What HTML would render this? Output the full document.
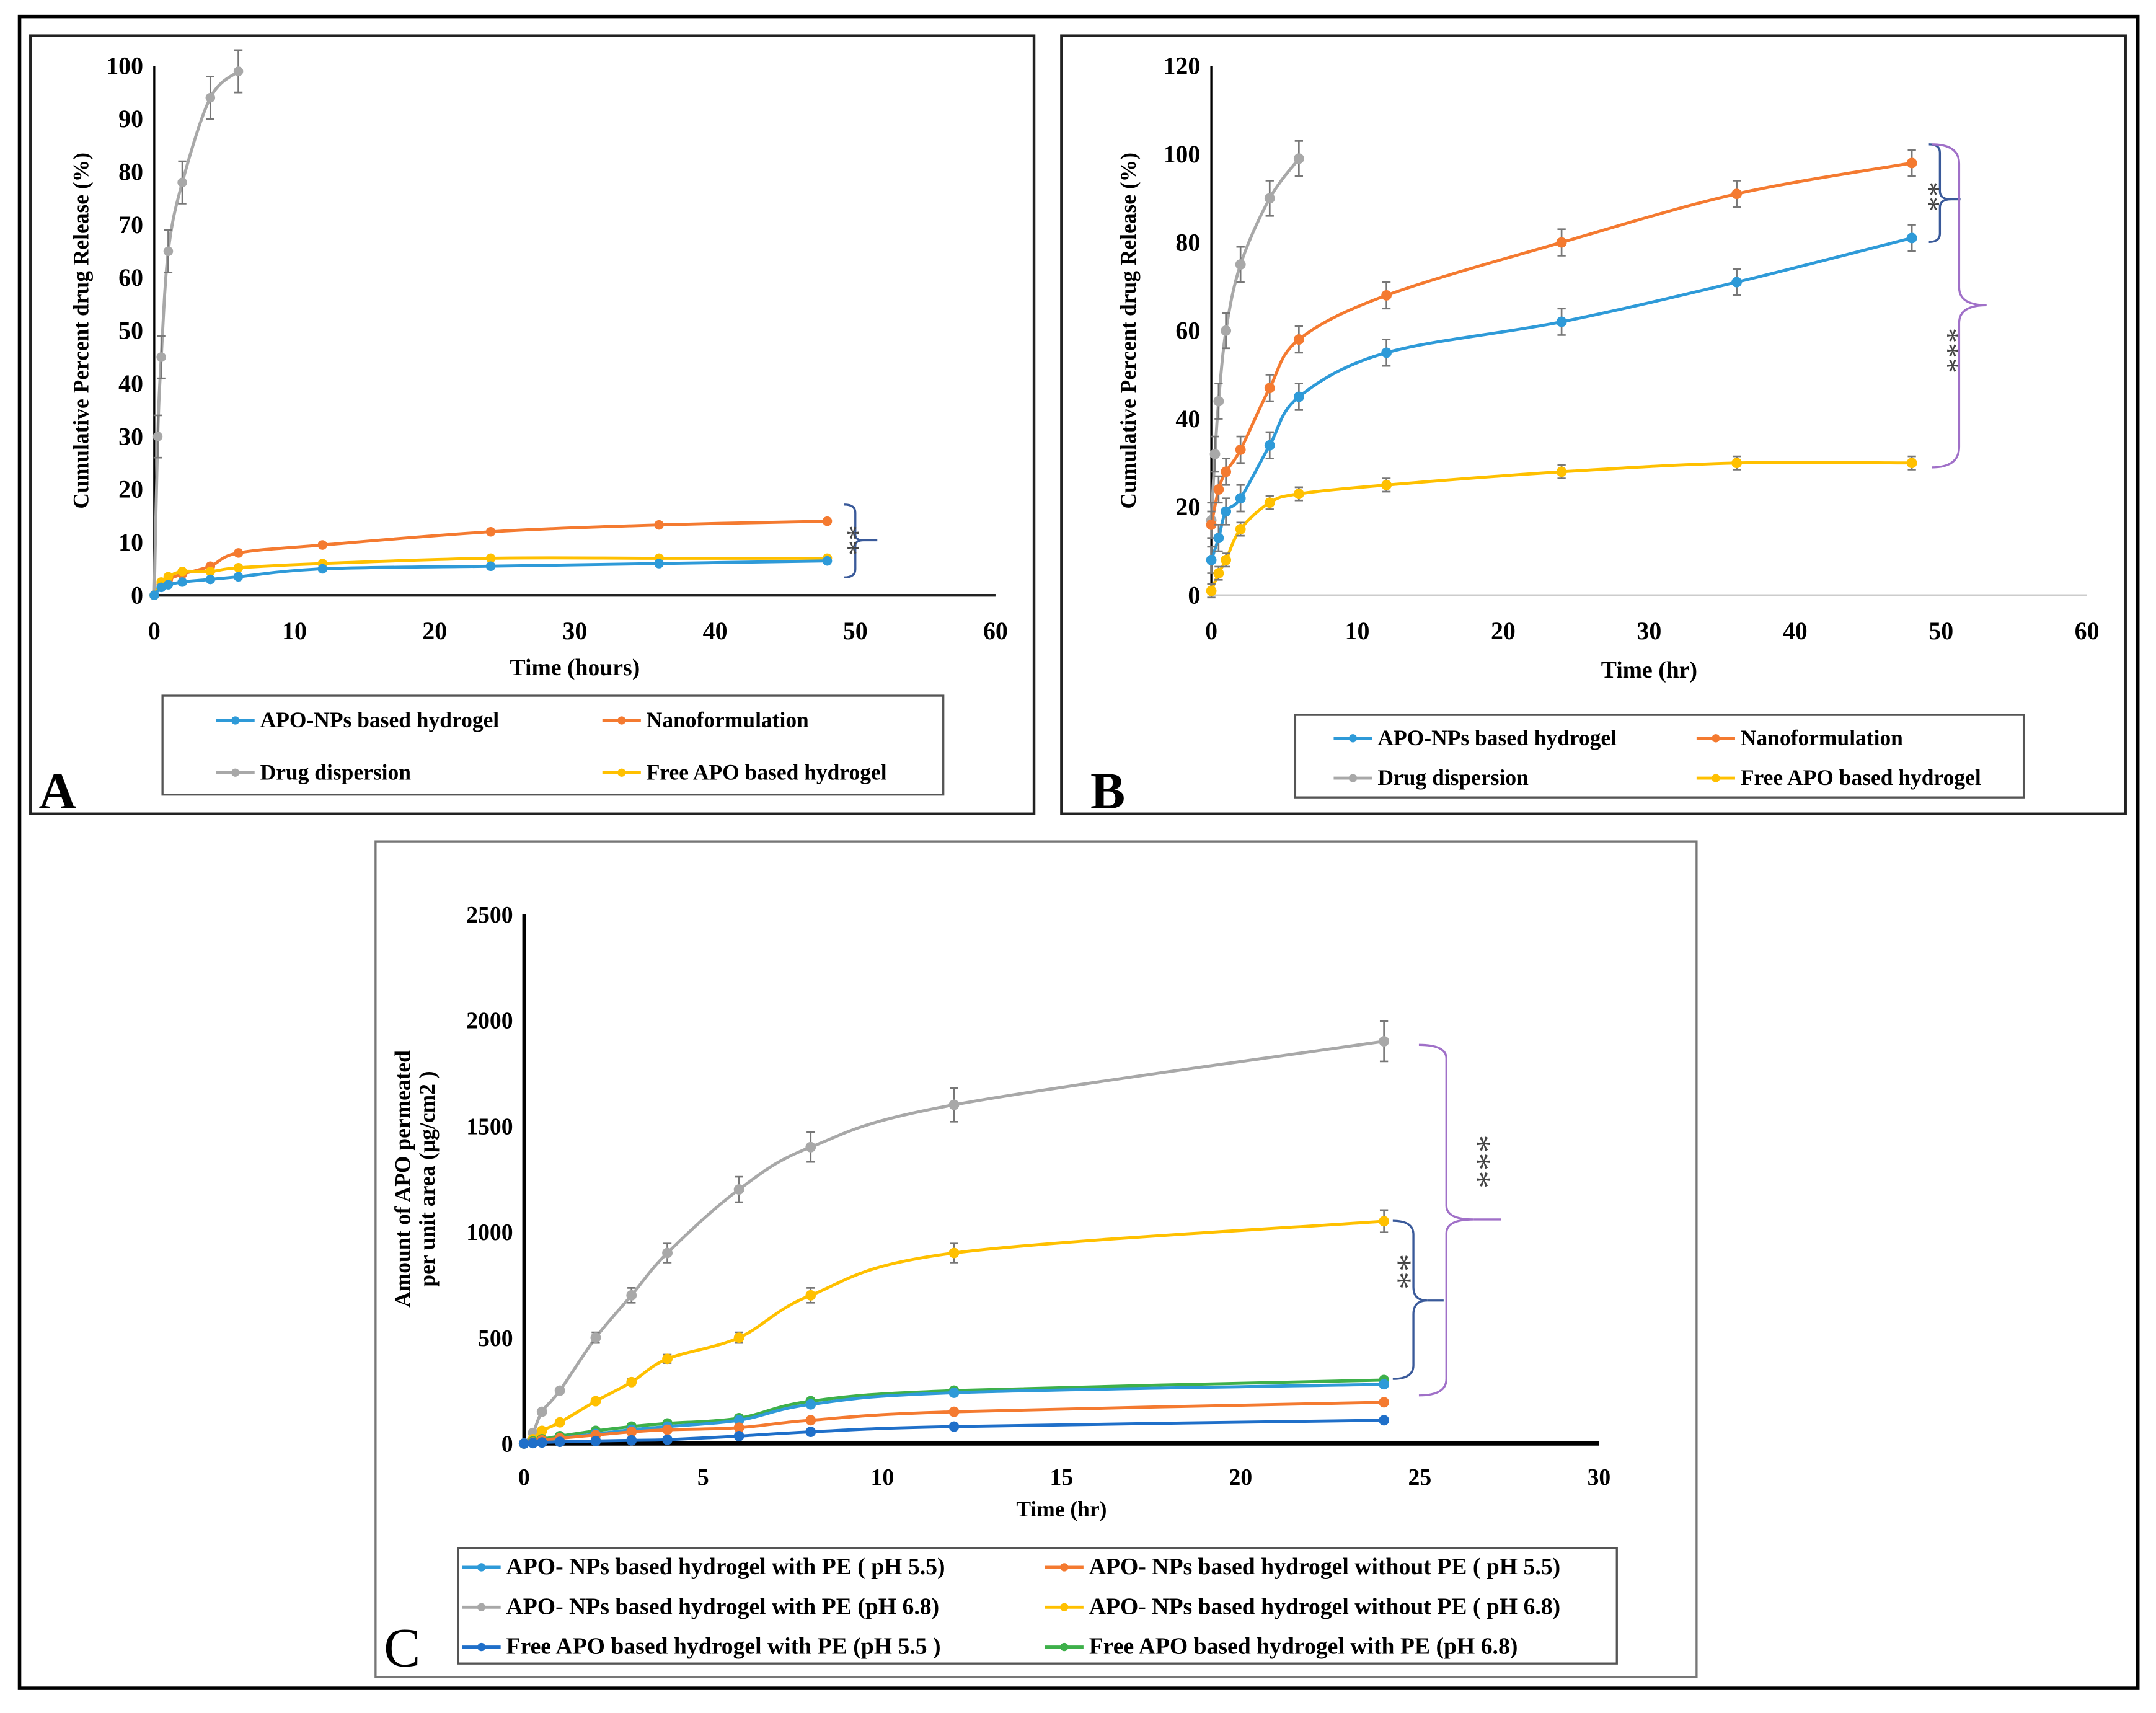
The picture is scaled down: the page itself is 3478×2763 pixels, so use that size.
<!DOCTYPE html>
<html><head><meta charset="utf-8"><style>
html,body{margin:0;padding:0;background:#fff;}
svg{display:block;font-family:"Liberation Serif",serif;font-weight:bold;}
</style></head><body>
<svg id="fig" width="3478" height="2763" viewBox="0 0 1568 1246">
<rect x="0" y="0" width="1568" height="1246" fill="#fff"/>
<rect x="14" y="12" width="1541" height="1216" fill="none" stroke="#000" stroke-width="2.5"/>
<rect x="22" y="26" width="730" height="566" fill="none" stroke="#222" stroke-width="2"/>
<rect x="772" y="26" width="774" height="566" fill="none" stroke="#222" stroke-width="2"/>
<rect x="273" y="612" width="961" height="608" fill="none" stroke="#777" stroke-width="1.5"/>
<g id="gA"></g>
<g id="gB"></g>
<g id="gC"></g>
<text x="28" y="588" font-size="38">A</text>
<text x="793" y="588" font-size="38">B</text>
<text x="279" y="1212" font-size="40" font-weight="normal">C</text>
<g fill="none" stroke-width="1.5">
<path d="M614,367 q8,0 8,6 v16 q0,4 6,4 q-6,0 -6,4 v17 q0,6 -8,6" stroke="#3a5a9a"/>
<line x1="628" y1="393" x2="638" y2="393" stroke="#3a5a9a"/>
<path d="M1403,105 q8,0 8,6 v28 q0,6 8,6 q-8,0 -8,6 v19 q0,6 -8,6" stroke="#3a5a9a"/>
<line x1="1419" y1="145" x2="1426" y2="145" stroke="#3a5a9a"/>
<path d="M1405,105 q20,0 20,14 v90 q0,13 20,13 q-20,0 -20,13 v90 q0,15 -20,15" stroke="#a070c8"/>
<path d="M1032,760 q20,0 20,10 v107 q0,10 20,10 q-20,0 -20,10 v106 q0,12 -20,12" stroke="#a070c8"/>
<line x1="1072" y1="887" x2="1092" y2="887" stroke="#a070c8"/>
<path d="M1013,888 q15,0 15,10 v38 q0,10 10,10 q-10,0 -10,10 v37 q0,10 -15,10" stroke="#3a5a9a"/>
<line x1="1038" y1="946" x2="1050" y2="946" stroke="#3a5a9a"/>
</g>
<g fill="#444" font-size="22" font-weight="normal">
<text transform="translate(610,393) rotate(90)" text-anchor="middle">**</text>
<text transform="translate(1396,143) rotate(90)" text-anchor="middle">**</text>
<text transform="translate(1410,255) rotate(90)" text-anchor="middle">***</text>
<text transform="translate(1067,845) rotate(90)" text-anchor="middle" font-size="26">***</text>
<text transform="translate(1009,925) rotate(90)" text-anchor="middle" font-size="26">**</text>
</g>
</svg>
<script>
// ---- Panel A data ----
const tA = [0,0.5,1,2,4,6,12,24,36,48];
const tAd = [0,0.25,0.5,1,2,4,6];
const aBlue = [0,1.5,2,2.5,3,3.5,5,5.5,6,6.5];
const aOrange = [0,2,3,4,5.5,8,9.5,12,13.3,14];
const aGray = [0,30,45,65,78,94,99];
const aYellow = [0,2.5,3.5,4.5,4.5,5.2,6,7,7,7];
const aXTicks = [0,10,20,30,40,50,60];
const aYTicks = [0,10,20,30,40,50,60,70,80,90,100];
// ---- Panel B data ----
const tB = [0,0.5,1,2,4,6,12,24,36,48];
const tBd = [0,0.25,0.5,1,2,4,6];
const bBlue = [8,13,19,22,34,45,55,62,71,81];
const bOrange = [16,24,28,33,47,58,68,80,91,98];
const bGray = [17,32,44,60,75,90,99];
const bYellow = [1,5,8,15,21,23,25,28,30,30];
const bXTicks = [0,10,20,30,40,50,60];
const bYTicks = [0,20,40,60,80,100,120];
// ---- Panel C data ----
const tC = [0,0.25,0.5,1,2,3,4,6,8,12,24];
const cGray = [0,50,150,250,500,700,900,1200,1400,1600,1900];
const cYellow = [0,20,60,100,200,290,400,500,700,900,1050];
const cGreen = [0,10,20,35,60,80,95,120,200,250,300];
const cLightBlue = [0,5,10,25,45,65,80,110,185,240,280];
const cOrange = [0,5,15,25,40,55,65,75,110,150,195];
const cDarkBlue = [0,2,5,8,12,15,18,35,55,80,110];
const cXTicks = [0,5,10,15,20,25,30];
const cYTicks = [0,500,1000,1500,2000,2500];

const NS="http://www.w3.org/2000/svg";
const COL={blue:"#2e9ad8",orange:"#f47a30",gray:"#a8a8a8",yellow:"#ffc000",green:"#3eb04a",dblue:"#1f6fc9"};
function mk(parent,tag,attrs){const e=document.createElementNS(NS,tag);for(const k in attrs)e.setAttribute(k,attrs[k]);parent.appendChild(e);return e;}
function smooth(pts){let d="M"+pts[0][0]+","+pts[0][1];for(let i=0;i<pts.length-1;i++){const p0=pts[Math.max(0,i-1)],p1=pts[i],p2=pts[i+1],p3=pts[Math.min(pts.length-1,i+2)];const c1x=p1[0]+(p2[0]-p0[0])/6,c1y=p1[1]+(p2[1]-p0[1])/6,c2x=p2[0]-(p3[0]-p1[0])/6,c2y=p2[1]-(p3[1]-p1[1])/6;d+=" C"+c1x+","+c1y+" "+c2x+","+c2y+" "+p2[0]+","+p2[1];}return d;}

function chart(g,cfg){
  const X=v=>cfg.x0+(v-cfg.xmin)/(cfg.xmax-cfg.xmin)*(cfg.x1-cfg.x0);
  const Y=v=>cfg.y0-(v/cfg.ymax)*(cfg.y0-cfg.y1);
  let ax=mk(g,"line",{x1:X(cfg.xmin),y1:cfg.y0,x2:cfg.x1,y2:cfg.y0,stroke:cfg.xAxisColor,"stroke-width":cfg.xAxisW});
  
  let ay=mk(g,"line",{x1:cfg.x0,y1:cfg.y0,x2:cfg.x0,y2:cfg.y1,stroke:"#000","stroke-width":cfg.yAxisW});
  
  cfg.xt.forEach(v=>{const t=mk(g,"text",{x:X(v),y:cfg.y0+cfg.xtOff,"font-size":cfg.fs,"text-anchor":"middle"});t.textContent=v;
    });
  cfg.yt.forEach(v=>{const t=mk(g,"text",{x:cfg.x0-8,y:Y(v)+6,"font-size":cfg.fs,"text-anchor":"end"});t.textContent=v;
    });
  let xl=mk(g,"text",{x:(cfg.x0+cfg.x1)/2,y:cfg.y0+cfg.xlOff,"font-size":cfg.fs-1,"text-anchor":"middle"});xl.textContent=cfg.xlabel;
  
  cfg.ylabel.forEach((s,i)=>{let yl=mk(g,"text",{transform:`translate(${cfg.ylx+i*18},${(cfg.y0+cfg.y1)/2}) rotate(-90)`,"font-size":cfg.yfs,"text-anchor":"middle"});yl.textContent=s;
    });
  cfg.series.forEach(s=>{
    const sg=mk(g,"g",{});
    const pts=s.t.map((t,i)=>[X(t),Y(s.v[i])]);
    mk(sg,"path",{d:smooth(pts),fill:"none",stroke:s.c,"stroke-width":2.2});
    pts.forEach((p,i)=>{
      let ev=0;
      if(s.err) ev=s.err;
      if(s.errFrac) ev=s.v[i]*s.errFrac;
      if(ev>0 && s.v[i]>0){const e=ev*(cfg.y0-cfg.y1)/cfg.ymax;const eb=mk(sg,"path",{d:`M${p[0]},${p[1]-e}V${p[1]+e}M${p[0]-3},${p[1]-e}h6M${p[0]-3},${p[1]+e}h6`,stroke:"#777","stroke-width":1.2,fill:"none"});
        }
      const m=mk(sg,"circle",{cx:p[0],cy:p[1],r:cfg.mr,fill:s.c});
      
    });
  });
  const L=cfg.legend;
  const lb=mk(g,"rect",{x:L.x,y:L.y,width:L.w,height:L.h,fill:"#fff",stroke:L.stroke,"stroke-width":1.5});
  
  L.items.forEach(it=>{
    const lg=mk(g,"g",{});
    mk(lg,"line",{x1:it.x,y1:it.y,x2:it.x+28,y2:it.y,stroke:it.c,"stroke-width":2.2});
    mk(lg,"circle",{cx:it.x+14,cy:it.y,r:3,fill:it.c});
    const t=mk(lg,"text",{x:it.x+32,y:it.y+5,"font-size":L.fs});t.textContent=it.label;
  });
}

chart(document.getElementById("gA"),{x0:112,x1:724,xmin:0,xmax:60,y0:433,y1:48,ymax:100,xt:aXTicks,yt:aYTicks,fs:18,yfs:16,xtOff:32,xlOff:58,
  xlabel:"Time (hours)",ylabel:["Cumulative Percent drug Release (%)"],ylx:64,xAxisColor:"#222",xAxisW:2,yAxisW:1.5,mr:3.5,
  series:[{name:"drug-dispersion",t:tAd,v:aGray,c:COL.gray,err:4},{name:"nanoformulation",t:tA,v:aOrange,c:COL.orange},
    {name:"free-apo-hydrogel",t:tA,v:aYellow,c:COL.yellow},{name:"apo-nps-hydrogel",t:tA,v:aBlue,c:COL.blue}],
  legend:{x:118,y:506,w:568,h:72,stroke:"#555",fs:16,items:[
    {x:157,y:524,c:COL.blue,label:"APO-NPs based hydrogel"},{x:438,y:524,c:COL.orange,label:"Nanoformulation"},
    {x:157,y:562,c:COL.gray,label:"Drug dispersion"},{x:438,y:562,c:COL.yellow,label:"Free APO based hydrogel"}]}});

chart(document.getElementById("gB"),{x0:881,x1:1518,xmin:0,xmax:60,y0:433,y1:48,ymax:120,xt:bXTicks,yt:bYTicks,fs:18,yfs:16,xtOff:32,xlOff:60,
  xlabel:"Time (hr)",ylabel:["Cumulative Percent drug Release (%)"],ylx:826,xAxisColor:"#ccc",xAxisW:1.5,yAxisW:1.5,mr:3.8,
  series:[{name:"drug-dispersion",t:tBd,v:bGray,c:COL.gray,err:4},{name:"nanoformulation",t:tB,v:bOrange,c:COL.orange,err:3},
    {name:"apo-nps-hydrogel",t:tB,v:bBlue,c:COL.blue,err:3},{name:"free-apo-hydrogel",t:tB,v:bYellow,c:COL.yellow,err:1.5}],
  legend:{x:942,y:520,w:530,h:60,stroke:"#555",fs:16,items:[
    {x:970,y:537,c:COL.blue,label:"APO-NPs based hydrogel"},{x:1234,y:537,c:COL.orange,label:"Nanoformulation"},
    {x:970,y:566,c:COL.gray,label:"Drug dispersion"},{x:1234,y:566,c:COL.yellow,label:"Free APO based hydrogel"}]}});

chart(document.getElementById("gC"),{x0:381,x1:1163,xmin:0,xmax:30,y0:1050,y1:665,ymax:2500,xt:cXTicks,yt:cYTicks,fs:17,yfs:16,xtOff:30,xlOff:53,
  xlabel:"Time (hr)",ylabel:["Amount of APO permeated","per unit area (µg/cm2 )"],ylx:298,xAxisColor:"#000",xAxisW:3,yAxisW:2.5,mr:3.8,
  series:[{name:"apo-nps-with-pe-ph68",t:tC,v:cGray,c:COL.gray,errFrac:0.05},{name:"apo-nps-without-pe-ph68",t:tC,v:cYellow,c:COL.yellow,errFrac:0.05},
    {name:"free-apo-with-pe-ph68",t:tC,v:cGreen,c:COL.green},{name:"apo-nps-with-pe-ph55",t:tC,v:cLightBlue,c:COL.blue},
    {name:"apo-nps-without-pe-ph55",t:tC,v:cOrange,c:COL.orange},{name:"free-apo-with-pe-ph55",t:tC,v:cDarkBlue,c:COL.dblue}],
  legend:{x:333,y:1126,w:843,h:84,stroke:"#555",fs:17,items:[
    {x:336,y:1140,c:COL.blue,label:"APO- NPs based hydrogel  with PE ( pH 5.5)"},{x:760,y:1140,c:COL.orange,label:"APO- NPs based hydrogel  without PE ( pH 5.5)"},
    {x:336,y:1169,c:COL.gray,label:"APO- NPs based hydrogel with PE (pH 6.8)"},{x:760,y:1169,c:COL.yellow,label:"APO- NPs based hydrogel without PE ( pH 6.8)"},
    {x:336,y:1198,c:COL.dblue,label:"Free APO based hydrogel  with PE (pH 5.5 )"},{x:760,y:1198,c:COL.green,label:"Free APO based hydrogel  with PE (pH 6.8)"}]}});
</script>
</body></html>
